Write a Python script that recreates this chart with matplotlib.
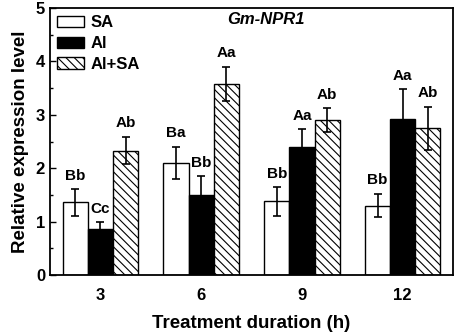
import matplotlib
matplotlib.use('Agg')
import matplotlib.pyplot as plt
import numpy as np

plt.rcParams['font.family'] = ['Liberation Sans', 'DejaVu Sans']
plt.rcParams['font.weight'] = 'bold'
plt.rcParams['hatch.linewidth'] = 0.8

durations = ['3', '6', '9', '12']
series = ['SA', 'Al', 'Al+SA']
sa = [1.36, 2.10, 1.38, 1.30]
sa_err = [0.25, 0.30, 0.27, 0.22]
al = [0.87, 1.50, 2.40, 2.93]
al_err = [0.12, 0.35, 0.33, 0.55]
alsa = [2.33, 3.58, 2.90, 2.75]
alsa_err = [0.26, 0.32, 0.22, 0.40]
sa_lab = ['Bb', 'Ba', 'Bb', 'Bb']
al_lab = ['Cc', 'Bb', 'Aa', 'Aa']
alsa_lab = ['Ab', 'Aa', 'Ab', 'Ab']

fig = plt.figure(figsize=(4.54, 3.33), dpi=100)
ax = fig.add_axes([0.110, 0.174, 0.888, 0.802])

x = np.arange(len(durations))
w = 0.25
styles = [dict(color='white', hatch=None), dict(color='black', hatch=None),
          dict(color='white', hatch='\\\\\\\\')]
vals = [sa, al, alsa]
errs = [sa_err, al_err, alsa_err]
labs = [sa_lab, al_lab, alsa_lab]
for i in range(3):
    xi = x + (i - 1) * w
    ax.bar(xi, vals[i], w, color=styles[i]['color'], edgecolor='black',
           hatch=styles[i]['hatch'], linewidth=1.0, label=series[i], zorder=2)
    ax.errorbar(xi, vals[i], yerr=errs[i], fmt='none', ecolor='black',
                elinewidth=1.2, capsize=3, capthick=1.2, zorder=3)
    for xx, v, e, t in zip(xi, vals[i], errs[i], labs[i]):
        ax.text(xx, v + e + 0.12, t, ha='center', va='bottom', fontsize=11,
                fontweight='bold')

ax.set_xlim(-0.5, 3.5)
ax.set_ylim(0, 5)
ax.set_xticks(x)
ax.set_xticklabels(durations)
ax.set_yticks(range(6))
ax.set_yticks(np.arange(0.5, 5, 1), minor=True)
ax.tick_params(axis='y', which='both', direction='in', labelsize=12, width=1)
ax.tick_params(axis='y', which='major', length=4)
ax.tick_params(axis='y', which='minor', length=2.5)
ax.tick_params(axis='x', length=0, labelsize=12, pad=9)
for s in ax.spines.values():
    s.set_linewidth(1.3)

ax.set_xlabel('Treatment duration (h)', fontsize=13.5, fontweight='bold',
              labelpad=9)
ax.set_ylabel('Relative expression level', fontsize=13.5, fontweight='bold',
              labelpad=5)
ax.text(0.536, 0.985, 'Gm-NPR1', transform=ax.transAxes, ha='center', va='top',
        fontsize=12, fontweight='bold', style='italic')

ax.legend(loc='upper left', frameon=False, fontsize=12, handlelength=1.6,
          handleheight=0.7, labelspacing=0.35, handletextpad=0.36,
          borderaxespad=0.2, borderpad=0.25)

fig.savefig('out.png', dpi=100)
